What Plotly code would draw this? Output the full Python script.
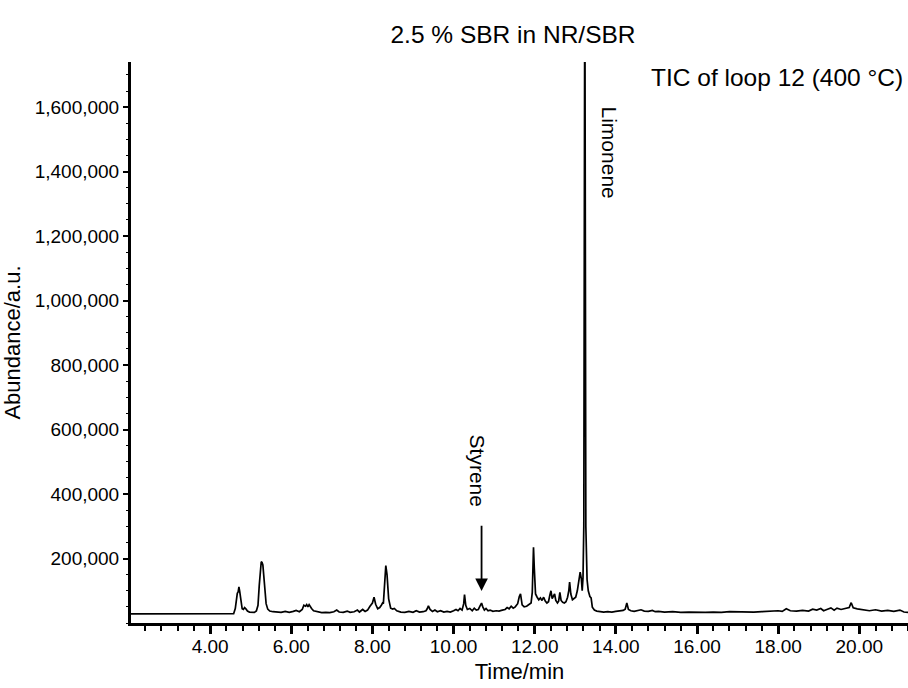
import plotly.graph_objects as go

# Retention time (min) and abundance (a.u.)
time_min = [
    2.05, 2.6, 3.2, 3.8, 4.3, 4.58,
    4.62, 4.65, 4.67, 4.69, 4.71, 4.73, 4.76, 4.79, 4.82, 4.85, 4.88, 4.92, 4.97, 5.03,
    5.09, 5.14, 5.18, 5.21, 5.24, 5.26, 5.28, 5.30, 5.32, 5.35, 5.38, 5.42, 5.47, 5.55,
    5.65, 5.75, 5.85, 5.95, 6.05, 6.12, 6.2, 6.27, 6.31, 6.35, 6.38, 6.41, 6.44, 6.47,
    6.50, 6.55, 6.65, 6.75, 6.85, 6.95, 7.05, 7.12, 7.18, 7.28, 7.38, 7.45, 7.55, 7.63,
    7.68, 7.76, 7.82, 7.88, 7.94, 8.0, 8.04, 8.08, 8.13, 8.18, 8.22, 8.25, 8.27, 8.29,
    8.31, 8.33, 8.36, 8.40, 8.45, 8.50, 8.54, 8.6, 8.7, 8.8, 8.9, 9.0, 9.08, 9.16,
    9.25, 9.32, 9.35, 9.38, 9.42, 9.48, 9.54, 9.6, 9.68, 9.76, 9.84, 9.92, 10.0, 10.06,
    10.11, 10.16, 10.21, 10.25, 10.27, 10.30, 10.34, 10.40, 10.46, 10.51, 10.56, 10.61,
    10.65, 10.69, 10.72, 10.76, 10.80, 10.85, 10.9, 10.97, 11.05, 11.12, 11.2, 11.27,
    11.32, 11.37, 11.42, 11.47, 11.52, 11.58, 11.62, 11.65, 11.69, 11.74, 11.8, 11.86,
    11.91, 11.94, 11.97, 11.99, 12.02, 12.06, 12.1, 12.14, 12.18, 12.22, 12.26, 12.3,
    12.34, 12.37, 12.40, 12.43, 12.46, 12.49, 12.52, 12.56, 12.59, 12.62, 12.65, 12.69,
    12.73, 12.77, 12.81, 12.84, 12.86, 12.89, 12.93, 12.97, 13.01, 13.05, 13.09, 13.12,
    13.15, 13.17, 13.19, 13.21, 13.235, 13.26, 13.29, 13.32, 13.36, 13.39, 13.42, 13.47,
    13.53, 13.6, 13.7, 13.8, 13.9, 14.0, 14.1, 14.18, 14.23, 14.27, 14.31, 14.37, 14.45,
    14.55, 14.62, 14.7, 14.8, 14.9, 14.97, 15.05, 15.2, 15.4, 15.6, 15.8, 16.0, 16.2,
    16.4, 16.6, 16.8, 17.0, 17.2, 17.4, 17.6, 17.8, 18.0, 18.1, 18.2, 18.3, 18.45, 18.6,
    18.75, 18.85, 18.95, 19.05, 19.12, 19.2, 19.3, 19.38, 19.45, 19.55, 19.65, 19.75,
    19.8, 19.85, 19.95, 20.1, 20.25, 20.4, 20.55, 20.7, 20.85, 21.0, 21.1, 21.2,
]
abundance = [
    28000, 28000, 28000, 28000, 28500, 29000,
    45000, 80000, 92000, 96000, 112000, 97000, 62000, 44000, 42000, 48000, 44000, 37000, 34000, 33000,
    33000, 37000, 55000, 115000, 170000, 190000, 188000, 180000, 150000, 95000, 60000, 43000, 37000, 35000,
    34000, 33000, 36000, 33000, 36000, 39000, 35000, 42000, 55000, 52000, 57000, 50000, 57000, 48000,
    45000, 38000, 35000, 32000, 33000, 32000, 35000, 40000, 34000, 33000, 37000, 33000, 35000, 40000,
    34000, 42000, 36000, 40000, 52000, 62000, 80000, 58000, 44000, 48000, 55000, 62000, 60000, 110000,
    160000, 178000, 150000, 75000, 46000, 43000, 45000, 38000, 34000, 33000, 36000, 33000, 38000, 34000,
    35000, 38000, 44000, 53000, 42000, 36000, 40000, 35000, 38000, 34000, 36000, 34000, 38000, 42000,
    38000, 45000, 40000, 60000, 88000, 55000, 42000, 45000, 38000, 46000, 40000, 42000,
    52000, 62000, 50000, 40000, 45000, 38000, 40000, 36000, 38000, 37000, 40000, 42000,
    48000, 44000, 52000, 46000, 50000, 60000, 82000, 90000, 56000, 50000, 52000, 58000,
    62000, 95000, 235000, 170000, 90000, 80000, 72000, 78000, 70000, 80000, 68000, 62000,
    66000, 85000, 100000, 76000, 82000, 90000, 70000, 62000, 68000, 95000, 70000, 64000,
    62000, 66000, 80000, 100000, 127000, 90000, 72000, 76000, 80000, 100000, 140000, 158000,
    136000, 100000, 140000, 300000, 2100000, 300000, 135000, 100000, 82000, 78000, 49000, 40000,
    37000, 35000, 34000, 35000, 34000, 36000, 37000, 39000, 43000, 62000, 42000, 38000, 36000,
    38000, 41000, 37000, 36000, 39000, 35000, 36000, 34000, 35000, 33000, 34000, 33000, 33000,
    34000, 33000, 35000, 34000, 35000, 34000, 35000, 37000, 38000, 36000, 44000, 38000, 37000, 39000,
    37000, 43000, 40000, 45000, 38000, 42000, 47000, 40000, 46000, 42000, 45000, 48000,
    63000, 47000, 44000, 42000, 38000, 41000, 37000, 39000, 36000, 40000, 34000, 33000,
]

x_tick_vals = [4, 6, 8, 10, 12, 14, 16, 18, 20]
x_tick_text = ["4.00", "6.00", "8.00", "10.00", "12.00", "14.00", "16.00", "18.00", "20.00"]
y_tick_vals = [200000, 400000, 600000, 800000, 1000000, 1200000, 1400000, 1600000]
y_tick_text = ["200,000", "400,000", "600,000", "800,000", "1,000,000", "1,200,000", "1,400,000", "1,600,000"]

FONT = "Liberation Sans, Arial, Helvetica, sans-serif"

fig = go.Figure()
fig.add_trace(go.Scatter(
    x=time_min, y=abundance, mode="lines",
    line=dict(color="black", width=1.7),
    showlegend=False, hoverinfo="x+y",
))

fig.update_layout(
    width=908, height=688,
    margin=dict(l=131, r=0, t=62, b=65, autoexpand=False),
    paper_bgcolor="white", plot_bgcolor="white",
    font=dict(family=FONT, size=19, color="black"),
    title=dict(text="2.5 % SBR in NR/SBR", x=0.565, xanchor="center",
               y=1 - 34 / 688, yanchor="middle", font=dict(size=24.5, family=FONT, color="black")),
)

fig.update_xaxes(
    range=[2.05, 21.2],
    tickmode="array", tickvals=x_tick_vals, ticktext=x_tick_text,
    ticks="outside", ticklen=8, tickwidth=2.5, tickcolor="black",
    minor=dict(dtick=0.4, tick0=0, ticks="outside", ticklen=5, tickwidth=2, tickcolor="black", showgrid=False),
    showline=True, linecolor="black", linewidth=3,
    showgrid=False, zeroline=False,
    tickfont=dict(size=19, family=FONT),
    ticklabelstandoff=-4,
    title=dict(text="Time/min", font=dict(size=22, family=FONT), standoff=8),
)
fig.update_yaxes(
    range=[0, 1740000],
    tickmode="array", tickvals=y_tick_vals, ticktext=y_tick_text,
    ticks="outside", ticklen=5, tickwidth=1.5, tickcolor="black",
    minor=dict(dtick=50000, tick0=0, ticks="outside", ticklen=2, tickwidth=1, tickcolor="black", showgrid=False),
    showline=True, linecolor="black", linewidth=3,
    showgrid=False, zeroline=False,
    tickfont=dict(size=19, family=FONT),
    title=dict(text="Abundance/a.u.", font=dict(size=22, family=FONT), standoff=8),
)

# Annotations
fig.add_annotation(
    x=10.69, y=99000, ax=10.69, ay=306000, xref="x", yref="y", axref="x", ayref="y",
    text="", showarrow=True, arrowhead=2, arrowsize=1.4, arrowwidth=1.8, arrowcolor="black",
)
fig.add_annotation(
    x=10.6, y=473000, xref="x", yref="y", text="Styrene", textangle=90,
    showarrow=False, font=dict(size=21, family=FONT, color="black"),
)
fig.add_annotation(
    x=13.85, y=1460000, xref="x", yref="y", text="Limonene", textangle=90,
    showarrow=False, font=dict(size=21, family=FONT, color="black"),
)
fig.add_annotation(
    x=0.996, y=1.0 - 15 / 561, xref="paper", yref="paper", xanchor="right", yanchor="middle",
    text="TIC of loop 12 (400 °C)", showarrow=False,
    font=dict(size=24.5, family=FONT, color="black"),
)

fig.write_html(
    "out.html",
    config={"displayModeBar": False},
    post_script="document.body.style.margin='0';document.body.style.overflow='hidden';"
                "document.documentElement.style.overflow='hidden';",
)
